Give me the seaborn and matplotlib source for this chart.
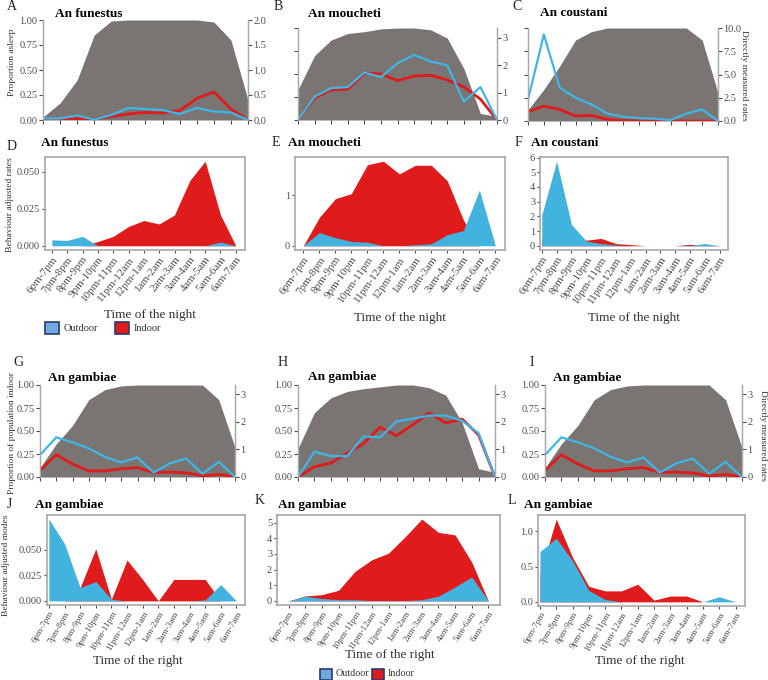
import numpy as np
import pandas as pd
import matplotlib
matplotlib.use("Agg")
import matplotlib.pyplot as plt
from matplotlib.patches import Rectangle
import seaborn as sns

sns.set_theme(style="white")
plt.rcParams['font.family'] = ['Liberation Serif', 'DejaVu Serif']

times = ["6pm-7pm", "7pm-8pm", "8pm-9pm", "9pm-10pm", "10pm-11pm", "11pm-12am",
         "12pm-1am", "1am-2am", "2am-3am", "3am-4am", "4am-5am", "5am-6am", "6am-7am"]

# Top panels: proportion asleep (left axis) + directly measured rates (right axis)
A_asleep = [0.03, 0.17, 0.40, 0.85, 0.99, 1.0, 1.0, 1.0, 1.0, 1.0, 0.98, 0.80, 0.20]
A_in = [0.0, 0.0, 0.03, 0.02, 0.07, 0.12, 0.15, 0.14, 0.19, 0.43, 0.56, 0.22, 0.0]
A_out = [0.03, 0.03, 0.09, 0.01, 0.10, 0.24, 0.22, 0.20, 0.12, 0.24, 0.17, 0.15, 0.0]

B_asleep = [0.33, 0.70, 0.87, 0.94, 0.96, 0.99, 1.0, 1.0, 0.98, 0.89, 0.56, 0.07, 0.04]
B_in = [0.0, 0.80, 1.10, 1.12, 1.70, 1.68, 1.43, 1.60, 1.63, 1.46, 1.20, 0.76, 0.0]
B_out = [0.0, 0.85, 1.16, 1.20, 1.73, 1.56, 2.07, 2.37, 2.13, 1.99, 0.67, 1.20, 0.0]

C_asleep = [0.12, 0.34, 0.59, 0.87, 0.96, 1.0, 1.0, 1.0, 1.0, 1.0, 1.0, 0.87, 0.30]
C_in = [1.0, 1.6, 1.25, 0.55, 0.60, 0.18, 0.05, 0.03, 0.0, 0.0, 0.0, 0.0, 0.0]
C_out = [2.3, 9.3, 3.6, 2.5, 1.8, 0.8, 0.46, 0.30, 0.25, 0.10, 0.80, 1.25, 0.0]

G_indoor_prop = [0.10, 0.36, 0.56, 0.84, 0.95, 0.99, 1.0, 1.0, 1.0, 1.0, 1.0, 0.84, 0.32]
G_in = [0.24, 0.81, 0.47, 0.22, 0.22, 0.30, 0.34, 0.16, 0.18, 0.15, 0.04, 0.09, 0.01]
G_out = [0.80, 1.44, 1.26, 1.04, 0.73, 0.53, 0.71, 0.16, 0.50, 0.67, 0.12, 0.55, 0.0]

H_indoor_prop = [0.31, 0.70, 0.86, 0.93, 0.96, 0.98, 1.0, 1.0, 0.97, 0.89, 0.59, 0.09, 0.05]
H_in = [0.0, 0.37, 0.51, 0.86, 1.22, 1.81, 1.50, 1.90, 2.33, 1.96, 2.10, 1.53, 0.0]
H_out = [0.0, 0.92, 0.76, 0.76, 1.47, 1.44, 2.02, 2.12, 2.23, 2.23, 2.04, 1.59, 0.0]

# Lower panels: behaviour adjusted rates / modes
D_in = [0.0, 0.0, 0.0, 0.0029, 0.0063, 0.013, 0.017, 0.0147, 0.0208, 0.044, 0.057, 0.0208, 0.0]
D_out = [0.004, 0.0036, 0.0063, 0.0, 0.0, 0.0, 0.0, 0.0, 0.0, 0.0, 0.0, 0.0025, 0.0]
E_in = [0.0, 0.56, 0.93, 1.03, 1.60, 1.67, 1.42, 1.59, 1.59, 1.28, 0.51, 0.0, 0.0]
E_out = [0.0, 0.26, 0.16, 0.085, 0.07, 0.0, 0.0, 0.02, 0.04, 0.22, 0.30, 1.10, 0.0]
F_in = [0.5, 0.8, 0.6, 0.38, 0.50, 0.15, 0.08, 0.0, 0.0, 0.0, 0.10, 0.05, 0.0]
F_out = [2.1, 5.75, 1.45, 0.32, 0.15, 0.05, 0.0, 0.0, 0.0, 0.0, 0.03, 0.15, 0.0]
J_in = [0.0, 0.0, 0.013, 0.051, 0.0016, 0.040, 0.021, 0.0, 0.021, 0.021, 0.021, 0.0, 0.0]
J_out = [0.080, 0.056, 0.013, 0.019, 0.0016, 0.0, 0.0, 0.0, 0.0, 0.0, 0.001, 0.016, 0.0]
K_in = [0.0, 0.32, 0.40, 0.68, 1.90, 2.63, 3.05, 4.10, 5.23, 4.38, 4.22, 2.48, 0.0]
K_out = [0.0, 0.30, 0.15, 0.08, 0.08, 0.02, 0.02, 0.02, 0.08, 0.30, 0.89, 1.53, 0.0]
L_in = [0.40, 1.17, 0.63, 0.22, 0.155, 0.155, 0.25, 0.024, 0.082, 0.082, 0.0, 0.0, 0.0]
L_out = [0.71, 0.90, 0.58, 0.16, 0.034, 0.0, 0.0, 0.0, 0.0, 0.0, 0.0, 0.072, 0.0]

GRAY = "#7a7573"
RED = "#e01b1b"
BLUE_A = "#41b3de"
BLUE_L = "#3eb6e6"
TICKC = "#4d4d4d"
SPINE = "#a8a8a8"

W, H = 768, 680
fig = plt.figure(figsize=(W / 100, H / 100), dpi=100)
fig.patch.set_facecolor("white")
idx = np.arange(len(times))


def add_ax(x0, y0, x1, y1):
    return fig.add_axes([x0 / W, 1 - y1 / H, (x1 - x0) / W, (y1 - y0) / H])


def ftext(x, y, s, **kw):
    fig.text(x / W, 1 - y / H, s, **kw)


def top_panel(box, area, indoor, outdoor, rmax, rticks, rlabels, left_labels):
    ax = add_ax(*box)
    ax.fill_between(idx, area, color=GRAY, lw=0)
    ax.set_xlim(0, 12)
    ax.set_ylim(0, 1)
    ax.set_xticks(idx)
    ax.set_xticklabels([])
    ax.set_yticks([0, 0.25, 0.5, 0.75, 1.0])
    if left_labels:
        ax.set_yticklabels(["0.00", "0.25", "0.50", "0.75", "1.00"])
    else:
        ax.set_yticklabels([])
    ax.tick_params(axis="both", length=3, width=0.8, color=TICKC, labelsize=7.5,
                   labelcolor=TICKC, pad=1, direction="out", bottom=True, left=True)
    for s in ["top", "bottom"]:
        ax.spines[s].set_visible(False)
    for s in ["left", "right"]:
        ax.spines[s].set_color(SPINE)
        ax.spines[s].set_linewidth(0.9)
    ax2 = ax.twinx()
    df = pd.DataFrame({"x": idx, "Indoor": indoor, "Outdoor": outdoor})
    sns.lineplot(data=df, x="x", y="Indoor", ax=ax2, color=RED, lw=2.0)
    sns.lineplot(data=df, x="x", y="Outdoor", ax=ax2, color=BLUE_L, lw=1.6)
    ax2.set_ylim(0, rmax)
    ax2.set_xlim(0, 12)
    ax2.set_yticks(rticks)
    ax2.set_yticklabels(rlabels)
    ax2.set_ylabel("")
    ax2.set_xlabel("")
    ax2.tick_params(axis="y", length=3, width=0.8, color=TICKC, labelsize=7.5,
                    labelcolor=TICKC, pad=1, right=True, direction="out")
    for s in ["top", "bottom"]:
        ax2.spines[s].set_visible(False)
    for s in ["left", "right"]:
        ax2.spines[s].set_color(SPINE)
        ax2.spines[s].set_linewidth(0.9)
    ax.set_xlabel("")
    return ax


def low_panel(box, indoor, outdoor, xl, xr, yticks, ylabels, rot, fs):
    ax = add_ax(*box)
    ax.fill_between(idx, indoor, color=RED, lw=0)
    ax.fill_between(idx, outdoor, color=BLUE_A, lw=0)
    ymax = max(max(indoor), max(outdoor))
    ax.set_ylim(-0.05 * ymax, 1.05 * ymax)
    ax.set_xlim(-xl, 12 + xr)
    ax.set_xticks(idx)
    ax.set_xticklabels(times, rotation=rot, ha="right", rotation_mode="anchor",
                       fontsize=fs, color=TICKC)
    ax.set_yticks(yticks)
    ax.set_yticklabels(ylabels, fontsize=7.5, color=TICKC)
    ax.tick_params(axis="both", length=2.5, width=0.8, color=TICKC, pad=1,
                   bottom=True, left=True, direction="out")
    for s in ax.spines.values():
        s.set_color(SPINE)
        s.set_linewidth(1.2)
    ax.set_facecolor("white")
    return ax


# Row 1
top_panel((43, 20, 248, 120), A_asleep, A_in, A_out, 2.0,
          [0, 0.5, 1.0, 1.5, 2.0], ["0.0", "0.5", "1.0", "1.5", "2.0"], True)
top_panel((298, 28, 497, 120), B_asleep, B_in, B_out, 3.35,
          [0, 1, 2, 3], ["0", "1", "2", "3"], False)
top_panel((528, 28, 718, 121), C_asleep, C_in, C_out, 10.0,
          [0, 2.5, 5, 7.5, 10], ["0.0", "2.5", "5.0", "7.5", "10.0"], False)

# Row 2
low_panel((45, 157, 245, 250), D_in, D_out, 0.45, 0.6,
          [0, 0.025, 0.05], ["0.000", "0.025", "0.050"], 52, 8)
low_panel((295, 157, 505, 250), E_in, E_out, 0.52, 0.6, [0, 1], ["0", "1"], 55, 8)
low_panel((540, 157, 728, 250), F_in, F_out, 0.12, 0.55,
          list(range(7)), [str(i) for i in range(7)], 57, 8)

# Row 3
top_panel((40, 385, 235, 477), G_indoor_prop, G_in, G_out, 3.34,
          [0, 1, 2, 3], ["0", "1", "2", "3"], True)
top_panel((298, 385, 495, 477), H_indoor_prop, H_in, H_out, 3.34,
          [0, 1, 2, 3], ["0", "1", "2", "3"], True)
top_panel((545, 385, 742, 477), G_indoor_prop, G_in, G_out, 3.34,
          [0, 1, 2, 3], ["0", "1", "2", "3"], True)

# Row 4
low_panel((47, 515, 245, 605), J_in, J_out, 0.12, 0.55,
          [0, 0.025, 0.05], ["0.000", "0.025", "0.050"], 60, 6.6)
low_panel((277, 515, 500, 605), K_in, K_out, 0.7, 0.7,
          list(range(6)), [str(i) for i in range(6)], 57, 6.6)
low_panel((538, 515, 745, 606), L_in, L_out, 0.12, 0.58,
          [0, 0.5, 1.0], ["0.0", "0.5", "1.0"], 60, 6.6)

# Panel letters
for (x, y, s) in [(12, 7, "A"), (278, 6, "B"), (517, 6, "C"), (12, 146, "D"),
                  (276, 143, "E"), (518, 143, "F"), (18, 363, "G"), (283, 362, "H"),
                  (532, 362, "I"), (9, 505, "J"), (260, 500, "K"), (512, 501, "L")]:
    ftext(x, y, s, fontsize=10, ha="center", va="center", color="#222222")

# Titles
for (x, y, s) in [(55, 14, "An funestus"), (308, 14, "An moucheti"), (540, 13, "An coustani"),
                  (41, 143, "An funestus"), (288, 143, "An moucheti"), (531, 143, "An coustani"),
                  (48, 378, "An gambiae"), (308, 377, "An gambiae"), (553, 378, "An gambiae"),
                  (35, 505, "An gambiae"), (278, 505, "An gambiae"), (524, 505, "An gambiae")]:
    ftext(x, y, s, fontsize=9.5, fontweight="bold", ha="left", va="center", color="black")

# Y labels
YL = dict(fontsize=6.8, ha="center", va="center", color="#333333")
ftext(12, 62, "Proportion asleep", rotation=90, **YL)
ftext(10, 205, "Behaviour adjusted rates", rotation=90, **YL)
ftext(12, 433, "Proportion of population indoor", rotation=90, **YL)
ftext(6, 565, "Behaviour adjusted modes", rotation=90, **YL)
ftext(744, 75, "Directly measured rates", rotation=270, **YL)
ftext(763, 435, "Directly measured rates", rotation=270, **YL)

# X labels
for (x, y, s) in [(150, 315, "Time of the night"), (400, 318, "Time of the night"),
                  (634, 318, "Time of the night"), (138, 661, "Time of the right"),
                  (390, 655, "Time of the right"), (640, 661, "Time of the right")]:
    ftext(x, y, s, fontsize=9.5, ha="center", va="center", color="#333333")


# Legends
def legend_at(y, bw, bh, gap_text, fs, labels_pos):
    for (bx, label, col) in labels_pos:
        r = Rectangle((bx / W, 1 - (y + bh / 2) / H), bw / W, bh / H, transform=fig.transFigure,
                      facecolor=col, edgecolor="#2b3a78", lw=1.2)
        fig.patches.append(r)
        ftext(bx + bw + gap_text, y, label, fontsize=fs, ha="left", va="center", color="#333333")


legend_at(328, 14, 11, 5, 7.5, [(45, "Outdoor", "#6fa8dc"), (115, "Indoor", RED)])
legend_at(674, 12, 11, 4, 7.2, [(320, "Outdoor", "#6fa8dc"), (372, "Indoor", RED)])

fig.savefig("out.png", dpi=100, facecolor="white")
